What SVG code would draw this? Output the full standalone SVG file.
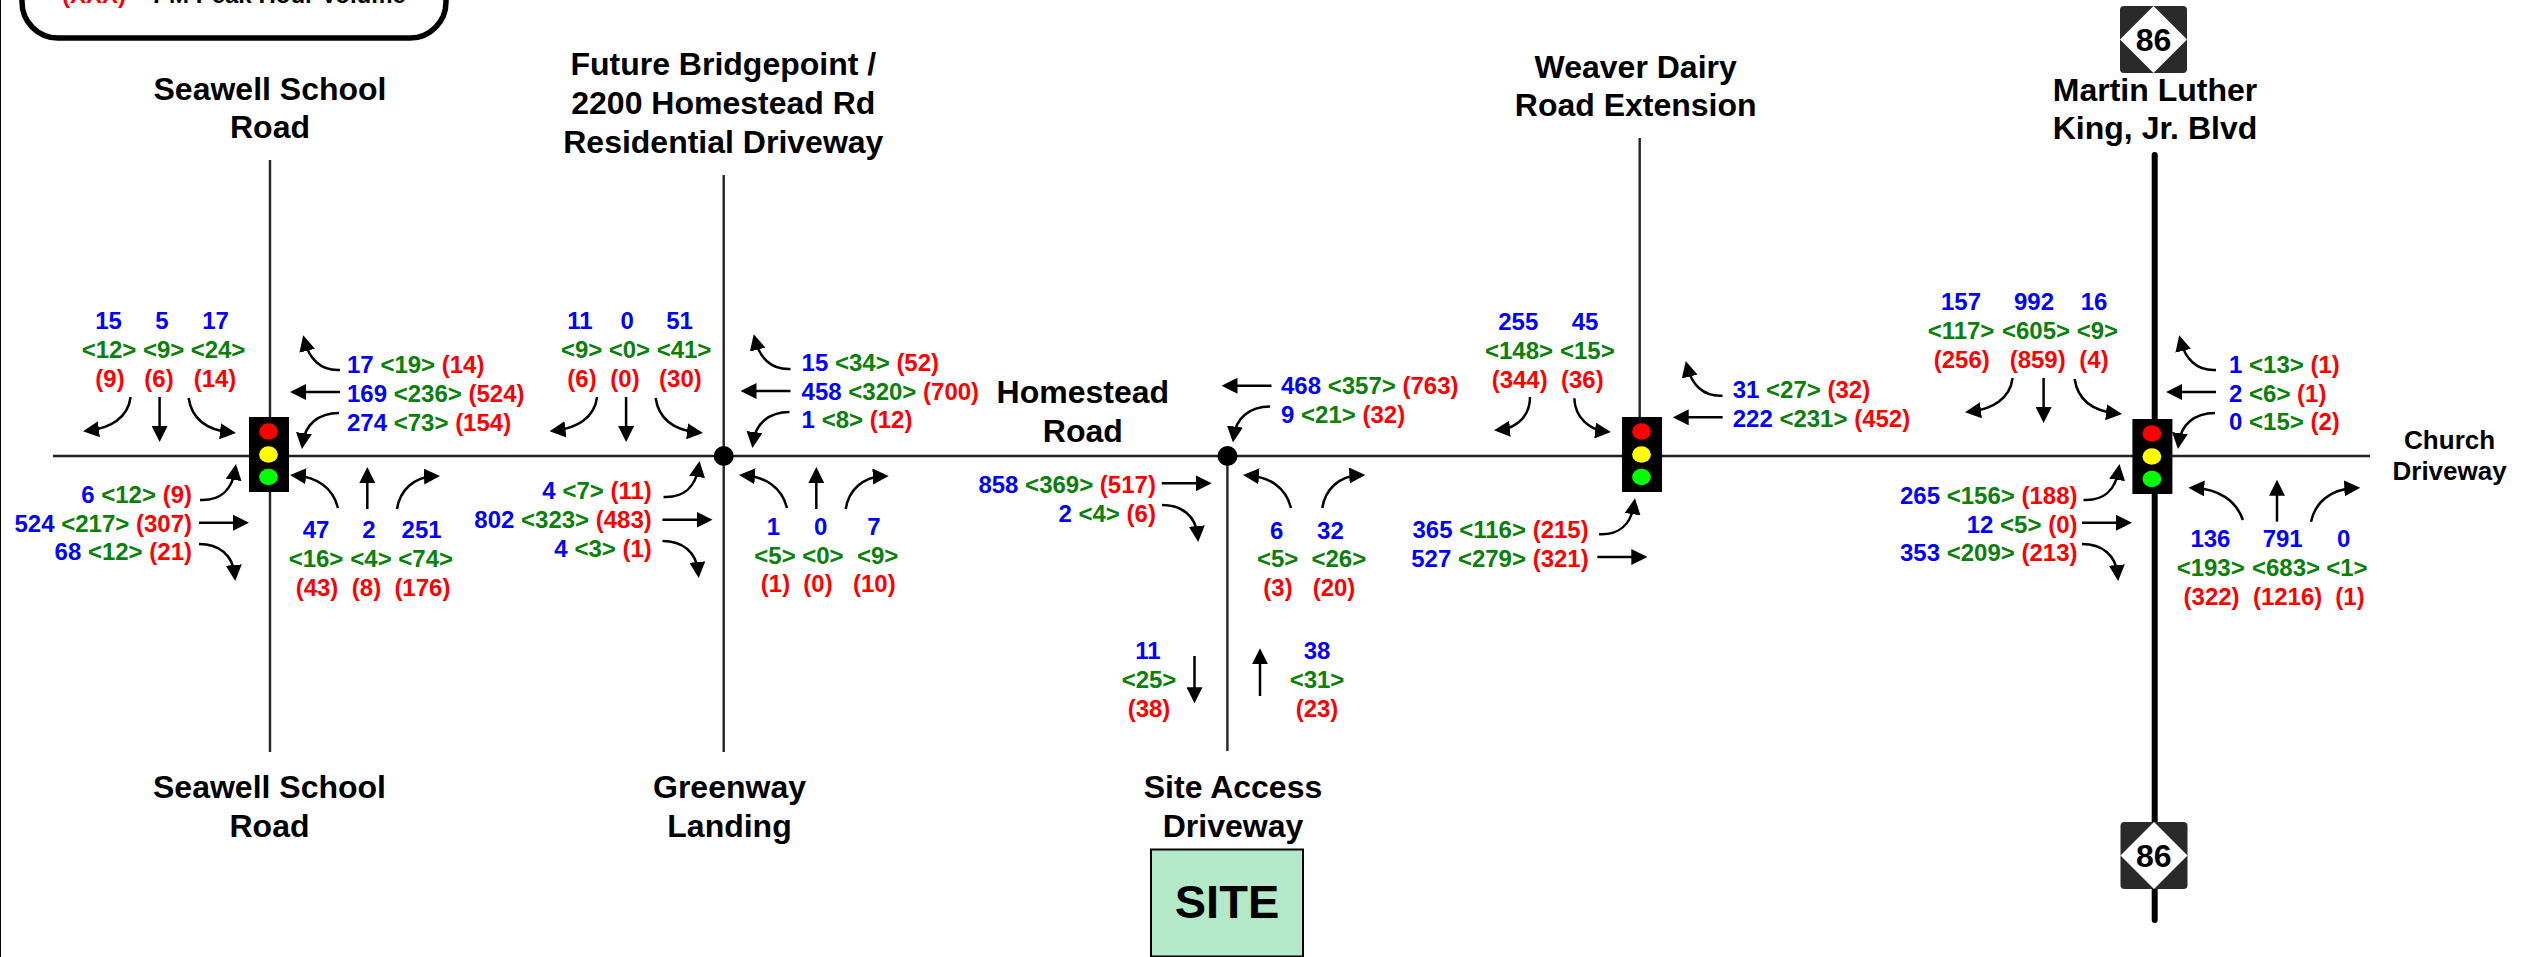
<svg xmlns="http://www.w3.org/2000/svg" xmlns:xlink="http://www.w3.org/1999/xlink" width="2537" height="957" viewBox="0 0 2537 957">
<style>
text{font-family:"Liberation Sans",Arial,sans-serif;font-weight:700}
.t{font-size:24px}
.l{font-size:32px;fill:#000;text-anchor:middle}
.m{text-anchor:middle}
.e{text-anchor:end}
.b{fill:#00f}.g{fill:#0a800a}.r{fill:#f00}
.a{fill:none;stroke:#000;stroke-width:2.5;marker-end:url(#ah)}
.road{stroke:#222;stroke-width:2.4;fill:none}
.thick{stroke:#000;stroke-width:6;stroke-linecap:round;fill:none}
</style>
<defs>
<marker id="ah" markerUnits="userSpaceOnUse" markerWidth="16" markerHeight="16" viewBox="0 0 16 16" refX="10" refY="8" orient="auto"><path d="M0,0L16,8L0,16z" fill="#000"/></marker>
<path id="sbL" class="a" d="M130.6,397C128,418 110,428 89,430.5"/>
<path id="sbT" class="a" d="M159.6,397V436"/>
<path id="sbR" class="a" d="M188.6,398C192,420 208,430 230,432.3"/>
<path id="wbT" class="a" d="M340,370C320,371 309,358 304.7,341"/>
<path id="wbM" class="a" d="M340,392H296"/>
<path id="wbB" class="a" d="M339,413C318,413 305,425 302.7,443"/>
<path id="ebT" class="a" d="M200,500C220,501 232,490 235.1,470"/>
<path id="ebM" class="a" d="M199,522.7H243"/>
<path id="ebB" class="a" d="M199,544C219,544 233,555 234.7,575"/>
<path id="nbL" class="a" d="M338,508C333,487 316,477 296,475.4"/>
<path id="nbT" class="a" d="M367.3,509V473"/>
<path id="nbR" class="a" d="M397,509C400,490 414,477 434,476.2"/>
<g id="sig"><rect width="40" height="75" fill="#000"/><ellipse cx="19.5" cy="14.5" rx="9.4" ry="8.3" fill="#f00"/><ellipse cx="19.5" cy="37.5" rx="9.4" ry="8.3" fill="#ff0"/><ellipse cx="19.5" cy="60" rx="9.4" ry="8.3" fill="#0f0"/></g>
<g id="shield"><rect width="67" height="67" rx="4" fill="#2a2a2a"/><polygon points="33.5,0 67,33.5 33.5,67 0,33.5" fill="#fff"/></g>
</defs>
<rect width="2537" height="957" fill="#fff"/>
<rect x="0" y="0" width="1" height="957" fill="#000"/>

<g id="connectors">
<path class="road" d="M53,456H2370"/>
<path class="road" d="M270,160V752"/>
<path class="road" d="M723.7,175V752"/>
<path class="road" d="M1227.4,456V751"/>
<path class="road" d="M1639.7,138V456"/>
<path class="thick" d="M2154.7,155V920"/>
<use href="#sbL"/><use href="#sbT"/><use href="#sbR"/><use href="#wbT"/><use href="#wbM"/><use href="#wbB"/><use href="#ebT"/><use href="#ebM"/><use href="#ebB"/><use href="#nbL"/><use href="#nbT"/><use href="#nbR"/>
<use href="#sbL" x="466.5"/><use href="#sbT" x="466.5"/><use href="#sbR" x="467"/><use href="#wbT" x="450.5" y="-1"/><use href="#wbM" x="450.5" y="-1"/><use href="#wbB" x="450.5" y="-1"/><use href="#ebT" x="463.5" y="-3"/><use href="#ebM" x="463.5" y="-3"/><use href="#ebB" x="463.5" y="-3"/><use href="#nbL" x="449"/><use href="#nbT" x="449"/><use href="#nbR" x="448.7"/>
<use href="#wbM" x="931.5" y="-6.3"/><use href="#wbB" x="931" y="-6.5"/><use href="#ebM" x="962.7" y="-39.4"/><use href="#ebB" x="963" y="-39"/><use href="#nbL" x="953"/><use href="#nbR" x="925.3" y="-1"/>
<path class="a" d="M1194.5,656V697.3"/>
<path class="a" d="M1260,696V654.3"/>
<path class="a" d="M1530,397C1530,415 1518,428 1500,429.7"/>
<path class="a" d="M1574.3,398.3C1575,418 1590,430 1605,431.5"/>
<use href="#wbT" x="1382.5" y="25.8"/><use href="#wbM" x="1382.7" y="25.3"/><use href="#ebT" x="1399" y="34.3"/><use href="#ebM" x="1398.3" y="34.3"/>
<use href="#sbL" x="1882" y="-19"/><use href="#sbT" x="1884" y="-19"/><use href="#sbR" x="1886" y="-19"/><use href="#wbT" x="1876"/><use href="#wbM" x="1876"/><use href="#wbB" x="1876"/><use href="#ebT" x="1883.5"/><use href="#ebM" x="1883"/><use href="#ebB" x="1883"/>
<path class="a" d="M2242.9,520C2236,500 2218,489 2194.4,488"/>
<use href="#nbT" x="1909.7" y="12.7"/>
<path class="a" d="M2311,521.7C2315,503 2330,489 2354.3,487.9"/>
</g>

<g id="legend">
<rect x="22" y="-60" width="424" height="98" rx="36" fill="#fff" stroke="#000" stroke-width="5.5"/>
<text class="t r" x="62" y="3">(XXX)</text>
<text class="t" x="153" y="3" fill="#000">PM Peak Hour Volume</text>
</g>

<g id="label-seawell-n"><text class="l" x="270" y="99.5">Seawell School</text><text class="l" x="270" y="138">Road</text></g>
<g id="label-bridgepoint"><text class="l" x="723.3" y="75">Future Bridgepoint /</text><text class="l" x="723.3" y="114">2200 Homestead Rd</text><text class="l" x="723.3" y="152.5">Residential Driveway</text></g>
<g id="label-weaver"><text class="l" x="1635.7" y="77.7">Weaver Dairy</text><text class="l" x="1635.7" y="116">Road Extension</text></g>
<g id="label-mlk"><text class="l" x="2155" y="101">Martin Luther</text><text class="l" x="2155" y="139">King, Jr. Blvd</text></g>
<g id="label-homestead"><text class="l" x="1082.8" y="403">Homestead</text><text class="l" x="1082.8" y="442">Road</text></g>
<g id="label-seawell-s"><text class="l" x="269.5" y="798">Seawell School</text><text class="l" x="269.5" y="836.7">Road</text></g>
<g id="label-greenway"><text class="l" x="729.5" y="798">Greenway</text><text class="l" x="729.5" y="836.7">Landing</text></g>
<g id="label-site-access"><text class="l" x="1233" y="798">Site Access</text><text class="l" x="1233" y="836.7">Driveway</text></g>
<g id="label-church"><text class="m" font-size="26" x="2449.6" y="449">Church</text><text class="m" font-size="26" x="2449.6" y="480">Driveway</text></g>

<g id="site"><rect x="1151" y="849.5" width="152" height="107" fill="#b3e8c9" stroke="#000" stroke-width="2"/><text class="m" font-size="47" x="1227" y="917.5">SITE</text></g>

<g id="shield-top"><use href="#shield" x="2120" y="6"/><text class="m" font-size="32" x="2153.5" y="50.7">86</text></g>
<g id="shield-bottom"><use href="#shield" x="2120.5" y="822"/><text class="m" font-size="32" x="2153.7" y="867">86</text></g>

<g id="int-seawell">
<use href="#sig" x="249" y="417"/>
<g class="t m">
<text class="b" x="108.6" y="329">15</text><text class="b" x="162" y="329">5</text><text class="b" x="215.5" y="329">17</text>
<text class="g" x="109" y="358">&lt;12&gt;</text><text class="g" x="163.7" y="358">&lt;9&gt;</text><text class="g" x="218" y="358">&lt;24&gt;</text>
<text class="r" x="110" y="387">(9)</text><text class="r" x="159" y="387">(6)</text><text class="r" x="215" y="387">(14)</text>
<text class="b" x="316" y="537.7">47</text><text class="b" x="369" y="537.7">2</text><text class="b" x="421.6" y="537.7">251</text>
<text class="g" x="316" y="566.7">&lt;16&gt;</text><text class="g" x="371" y="566.7">&lt;4&gt;</text><text class="g" x="425.7" y="566.7">&lt;74&gt;</text>
<text class="r" x="317" y="595.7">(43)</text><text class="r" x="366.5" y="595.7">(8)</text><text class="r" x="422.4" y="595.7">(176)</text>
</g>
<g class="t">
<text x="347" y="373"><tspan class="b">17</tspan> <tspan class="g">&lt;19&gt;</tspan> <tspan class="r">(14)</tspan></text>
<text x="347" y="402"><tspan class="b">169</tspan> <tspan class="g">&lt;236&gt;</tspan> <tspan class="r">(524)</tspan></text>
<text x="347" y="431"><tspan class="b">274</tspan> <tspan class="g">&lt;73&gt;</tspan> <tspan class="r">(154)</tspan></text>
</g>
<g class="t e">
<text x="192" y="503"><tspan class="b">6</tspan> <tspan class="g">&lt;12&gt;</tspan> <tspan class="r">(9)</tspan></text>
<text x="192" y="531.7"><tspan class="b">524</tspan> <tspan class="g">&lt;217&gt;</tspan> <tspan class="r">(307)</tspan></text>
<text x="192" y="560"><tspan class="b">68</tspan> <tspan class="g">&lt;12&gt;</tspan> <tspan class="r">(21)</tspan></text>
</g>
</g>

<g id="int-bridgepoint">
<circle cx="723.7" cy="456" r="10" fill="#000"/>
<g class="t m">
<text class="b" x="580" y="329">11</text><text class="b" x="627.3" y="329">0</text><text class="b" x="679.6" y="329">51</text>
<text class="g" x="581.6" y="357.7">&lt;9&gt;</text><text class="g" x="629.4" y="357.7">&lt;0&gt;</text><text class="g" x="684" y="357.7">&lt;41&gt;</text>
<text class="r" x="582" y="387">(6)</text><text class="r" x="625" y="387">(0)</text><text class="r" x="680.4" y="387">(30)</text>
<text class="b" x="773.5" y="534.7">1</text><text class="b" x="820.8" y="534.7">0</text><text class="b" x="874" y="534.7">7</text>
<text class="g" x="775" y="563.7">&lt;5&gt;</text><text class="g" x="822.9" y="563.7">&lt;0&gt;</text><text class="g" x="877.6" y="563.7">&lt;9&gt;</text>
<text class="r" x="775.5" y="592">(1)</text><text class="r" x="818" y="592">(0)</text><text class="r" x="874.3" y="592">(10)</text>
</g>
<g class="t">
<text x="801.6" y="371"><tspan class="b">15</tspan> <tspan class="g">&lt;34&gt;</tspan> <tspan class="r">(52)</tspan></text>
<text x="801.6" y="399.5"><tspan class="b">458</tspan> <tspan class="g">&lt;320&gt;</tspan> <tspan class="r">(700)</tspan></text>
<text x="801.6" y="427.7"><tspan class="b">1</tspan> <tspan class="g">&lt;8&gt;</tspan> <tspan class="r">(12)</tspan></text>
</g>
<g class="t e">
<text x="651.8" y="499"><tspan class="b">4</tspan> <tspan class="g">&lt;7&gt;</tspan> <tspan class="r">(11)</tspan></text>
<text x="651.8" y="527.7"><tspan class="b">802</tspan> <tspan class="g">&lt;323&gt;</tspan> <tspan class="r">(483)</tspan></text>
<text x="651.8" y="556.7"><tspan class="b">4</tspan> <tspan class="g">&lt;3&gt;</tspan> <tspan class="r">(1)</tspan></text>
</g>
</g>

<g id="int-site">
<circle cx="1227.5" cy="456" r="10" fill="#000"/>
<g class="t m">
<text class="b" x="1276.8" y="538.7">6</text><text class="b" x="1330.4" y="538.7">32</text>
<text class="g" x="1277.6" y="567.3">&lt;5&gt;</text><text class="g" x="1338.8" y="567.3">&lt;26&gt;</text>
<text class="r" x="1278" y="596">(3)</text><text class="r" x="1334" y="596">(20)</text>
<text class="b" x="1148" y="658.7">11</text><text class="g" x="1149" y="687.7">&lt;25&gt;</text><text class="r" x="1149" y="716.7">(38)</text>
<text class="b" x="1317" y="658.7">38</text><text class="g" x="1317" y="687.7">&lt;31&gt;</text><text class="r" x="1317" y="716.7">(23)</text>
</g>
<g class="t">
<text x="1281" y="394"><tspan class="b">468</tspan> <tspan class="g">&lt;357&gt;</tspan> <tspan class="r">(763)</tspan></text>
<text x="1281" y="423"><tspan class="b">9</tspan> <tspan class="g">&lt;21&gt;</tspan> <tspan class="r">(32)</tspan></text>
</g>
<g class="t e">
<text x="1155.9" y="493"><tspan class="b">858</tspan> <tspan class="g">&lt;369&gt;</tspan> <tspan class="r">(517)</tspan></text>
<text x="1155.9" y="522"><tspan class="b">2</tspan> <tspan class="g">&lt;4&gt;</tspan> <tspan class="r">(6)</tspan></text>
</g>
</g>

<g id="int-weaver">
<use href="#sig" x="1622" y="417"/>
<g class="t m">
<text class="b" x="1518.3" y="330.3">255</text><text class="b" x="1585" y="330.3">45</text>
<text class="g" x="1519" y="358.7">&lt;148&gt;</text><text class="g" x="1587.3" y="358.7">&lt;15&gt;</text>
<text class="r" x="1519.7" y="388">(344)</text><text class="r" x="1582.3" y="388">(36)</text>
</g>
<g class="t">
<text x="1732.7" y="397.7"><tspan class="b">31</tspan> <tspan class="g">&lt;27&gt;</tspan> <tspan class="r">(32)</tspan></text>
<text x="1732.7" y="426.7"><tspan class="b">222</tspan> <tspan class="g">&lt;231&gt;</tspan> <tspan class="r">(452)</tspan></text>
</g>
<g class="t e">
<text x="1588.7" y="538"><tspan class="b">365</tspan> <tspan class="g">&lt;116&gt;</tspan> <tspan class="r">(215)</tspan></text>
<text x="1588.7" y="567"><tspan class="b">527</tspan> <tspan class="g">&lt;279&gt;</tspan> <tspan class="r">(321)</tspan></text>
</g>
</g>

<g id="int-mlk">
<use href="#sig" x="2132.4" y="419"/>
<g class="t m">
<text class="b" x="1961" y="310">157</text><text class="b" x="2034" y="310">992</text><text class="b" x="2094" y="310">16</text>
<text class="g" x="1961" y="338.7">&lt;117&gt;</text><text class="g" x="2036" y="338.7">&lt;605&gt;</text><text class="g" x="2097.4" y="338.7">&lt;9&gt;</text>
<text class="r" x="1961.8" y="367.7">(256)</text><text class="r" x="2037.7" y="367.7">(859)</text><text class="r" x="2094" y="367.7">(4)</text>
<text class="b" x="2210.4" y="547.3">136</text><text class="b" x="2282.7" y="547.3">791</text><text class="b" x="2343.6" y="547.3">0</text>
<text class="g" x="2210.7" y="576">&lt;193&gt;</text><text class="g" x="2286" y="576">&lt;683&gt;</text><text class="g" x="2346.9" y="576">&lt;1&gt;</text>
<text class="r" x="2211.6" y="605">(322)</text><text class="r" x="2287.6" y="605">(1216)</text><text class="r" x="2350" y="605">(1)</text>
</g>
<g class="t">
<text x="2229" y="372.7"><tspan class="b">1</tspan> <tspan class="g">&lt;13&gt;</tspan> <tspan class="r">(1)</tspan></text>
<text x="2229" y="401.7"><tspan class="b">2</tspan> <tspan class="g">&lt;6&gt;</tspan> <tspan class="r">(1)</tspan></text>
<text x="2229" y="430"><tspan class="b">0</tspan> <tspan class="g">&lt;15&gt;</tspan> <tspan class="r">(2)</tspan></text>
</g>
<g class="t e">
<text x="2077.5" y="503.7"><tspan class="b">265</tspan> <tspan class="g">&lt;156&gt;</tspan> <tspan class="r">(188)</tspan></text>
<text x="2077.5" y="532.7"><tspan class="b">12</tspan> <tspan class="g">&lt;5&gt;</tspan> <tspan class="r">(0)</tspan></text>
<text x="2077.5" y="561"><tspan class="b">353</tspan> <tspan class="g">&lt;209&gt;</tspan> <tspan class="r">(213)</tspan></text>
</g>
</g>
</svg>
